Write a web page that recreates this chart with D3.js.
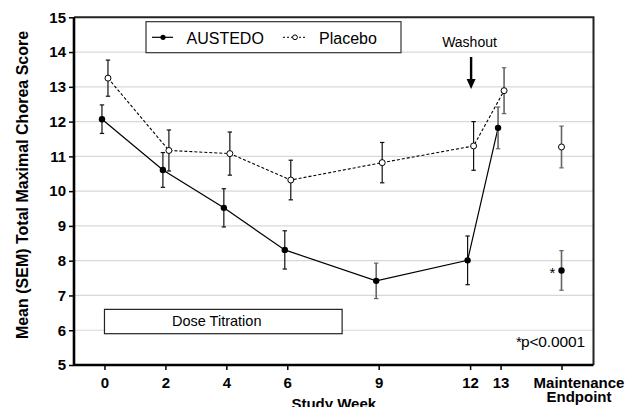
<!DOCTYPE html>
<html>
<head>
<meta charset="utf-8">
<script src="https://cdn.jsdelivr.net/npm/d3@7"></script>
<style>
  body { margin: 0; background: #fff; }
  svg { font-family: "Liberation Sans", Arial, sans-serif; }
</style>
</head>
<body>
<div id="chart"></div>
<script>
// week positions and values
const weeks = [0, 2, 4, 6, 9, 12, 13];
const austedo = [12.07, 10.61, 9.52, 8.31, 7.42, 8.01, 11.82];
const austedoSem = [0.41, 0.50, 0.55, 0.55, 0.51, 0.70, 0.60];
const placebo = [13.25, 11.17, 11.08, 10.32, 10.82, 11.30, 12.89];
const placeboSem = [0.52, 0.59, 0.62, 0.57, 0.58, 0.70, 0.66];

const endpointWeek = 15;
const austedoEnd = 7.72, austedoEndSem = 0.57;
const placeboEnd = 11.27, placeboEndSem = 0.60;

const xTicks = [0, 2, 4, 6, 9, 12, 13, 15];
const xTickLabels = ["0", "2", "4", "6", "9", "12", "13", "Maintenance|Endpoint"];
const yTicks = [5, 6, 7, 8, 9, 10, 11, 12, 13, 14, 15];

const svgWidth = 628;
const svgHeight = 407;

const svg = d3.select("#chart")
    .append("svg")
    .attr("width", svgWidth)
    .attr("height", svgHeight);

const xScale = d3.scaleLinear()
    .domain([-1, 16.05])
    .range([74, 593.5]);

const yScale = d3.scaleLinear()
    .domain([5, 15])
    .range([365, 17.3]);

// gridlines
svg.append("g")
    .selectAll("line")
    .data(yTicks.slice(1, -1))
    .enter().append("line")
    .attr("x1", xScale.range()[0])
    .attr("x2", xScale.range()[1])
    .attr("y1", d => yScale(d))
    .attr("y2", d => yScale(d))
    .attr("stroke", "#d8d8d8")
    .attr("stroke-width", 1.2);

// top and right frame
svg.append("path")
    .attr("d", "M" + xScale.range()[0] + "," + yScale(15) + "H" + xScale.range()[1] + "V" + yScale(5))
    .attr("fill", "none")
    .attr("stroke", "#222")
    .attr("stroke-width", 2);

// axes
const xAxis = d3.axisBottom(xScale)
    .tickValues(xTicks)
    .tickSize(5)
    .tickPadding(7)
    .tickFormat((d, i) => xTickLabels[i]);

const gx = svg.append("g")
    .attr("transform", "translate(0," + yScale(5) + ")")
    .call(xAxis);

const yAxis = d3.axisLeft(yScale)
    .tickValues(yTicks)
    .tickSize(5)
    .tickPadding(3);

const gy = svg.append("g")
    .attr("transform", "translate(" + xScale.range()[0] + ",0)")
    .call(yAxis);

[gx, gy].forEach(g => {
    g.select(".domain").attr("stroke", "#000").attr("stroke-width", 2.6);
    g.selectAll(".tick line").attr("stroke", "#000").attr("stroke-width", 1.5);
    g.selectAll(".tick text")
        .attr("fill", "#000")
        .style("font-size", "15px")
        .style("font-weight", "bold")
        .style("font-family", "'Liberation Sans', Arial, sans-serif");
});
gx.select(".domain").attr("d", "M" + xScale.range()[0] + ",0H" + xScale.range()[1]);
gy.select(".domain").attr("d", "M0," + yScale(5) + "V" + yScale(15));

// two-line label for the endpoint tick, set a bit right of its tick
gx.selectAll(".tick text").each(function (d, i) {
    const parts = xTickLabels[i].split("|");
    if (parts.length > 1) {
        const t = d3.select(this).text(null);
        parts.forEach((p, k) => {
            t.append("tspan").attr("x", 17).attr("dy", k === 0 ? "0.71em" : "14px").text(p);
        });
        t.attr("dy", null);
    }
});

// axis titles
svg.append("text")
    .attr("text-anchor", "middle")
    .attr("x", (xScale.range()[0] + xScale.range()[1]) / 2)
    .attr("y", 409)
    .style("font-size", "15px")
    .style("font-weight", "bold")
    .text("Study Week");

svg.append("text")
    .attr("text-anchor", "middle")
    .attr("transform", "translate(28,185) rotate(-90)")
    .style("font-size", "16px")
    .style("font-weight", "bold")
    .text("Mean (SEM) Total Maximal Chorea Score");

// dose titration box
svg.append("rect")
    .attr("x", xScale(0))
    .attr("y", yScale(6.6))
    .attr("width", xScale(7.8) - xScale(0))
    .attr("height", yScale(5.9) - yScale(6.6))
    .attr("fill", "#fff")
    .attr("stroke", "#222")
    .attr("stroke-width", 1.2);

svg.append("text")
    .attr("x", 172)
    .attr("y", 325.7)
    .style("font-size", "14.5px")
    .text("Dose Titration");

// series
const austedoPts = weeks.map((w, i) => ({ week: w, value: austedo[i], sem: austedoSem[i], dx: -2.5 }));
const placeboPts = weeks.map((w, i) => ({ week: w, value: placebo[i], sem: placeboSem[i], dx: 3.5 }));
austedoPts.forEach((d, i) => d.gray = (i >= 4 && i !== 5) );
placeboPts.forEach((d, i) => d.gray = (i === 6));

const line = d3.line()
    .x(d => xScale(d.week) + d.dx)
    .y(d => yScale(d.value));

svg.append("path")
    .datum(placeboPts)
    .attr("d", line)
    .attr("fill", "none")
    .attr("stroke", "#000")
    .attr("stroke-width", 1.1)
    .attr("stroke-dasharray", "3,2");

svg.append("path")
    .datum(austedoPts)
    .attr("d", line)
    .attr("fill", "none")
    .attr("stroke", "#000")
    .attr("stroke-width", 1.2);

const endPts = [
    { week: endpointWeek, value: placeboEnd, sem: placeboEndSem, dx: 0, gray: true, open: true },
    { week: endpointWeek, value: austedoEnd, sem: austedoEndSem, dx: 0, gray: true, open: false }
];

function drawErrorBars(points) {
    const g = svg.append("g");
    points.forEach(d => {
        const cx = xScale(d.week) + d.dx;
        const col = d.gray ? "#666" : "#111";
        const sw = d.gray ? 1.6 : 1.2;
        g.append("line")
            .attr("x1", cx).attr("x2", cx)
            .attr("y1", yScale(d.value + d.sem)).attr("y2", yScale(d.value - d.sem))
            .attr("stroke", col).attr("stroke-width", sw);
        [d.value + d.sem, d.value - d.sem].forEach(v => {
            g.append("line")
                .attr("x1", cx - 2.2).attr("x2", cx + 2.2)
                .attr("y1", yScale(v)).attr("y2", yScale(v))
                .attr("stroke", col).attr("stroke-width", 1.2);
        });
    });
}

drawErrorBars(placeboPts);
drawErrorBars(austedoPts);
drawErrorBars(endPts);

svg.append("g")
    .selectAll("circle")
    .data(placeboPts.concat(endPts.filter(d => d.open)))
    .enter().append("circle")
    .attr("cx", d => xScale(d.week) + d.dx)
    .attr("cy", d => yScale(d.value))
    .attr("r", 3)
    .attr("fill", "#fff")
    .attr("stroke", "#000")
    .attr("stroke-width", 1);

svg.append("g")
    .selectAll("circle")
    .data(austedoPts.concat(endPts.filter(d => !d.open)))
    .enter().append("circle")
    .attr("cx", d => xScale(d.week) + d.dx)
    .attr("cy", d => yScale(d.value))
    .attr("r", 3.2)
    .attr("fill", "#000");

// significance marks
svg.append("text")
    .attr("text-anchor", "middle")
    .attr("x", xScale(endpointWeek) - 9)
    .attr("y", yScale(austedoEnd) + 8)
    .style("font-size", "15px")
    .text("*");

svg.append("text")
    .attr("x", 516)
    .attr("y", 346.7)
    .style("font-size", "15px")
    .text("*");

svg.append("text")
    .attr("x", 521)
    .attr("y", 346.7)
    .attr("textLength", 64)
    .attr("lengthAdjust", "spacing")
    .style("font-size", "15.5px")
    .text("p<0.0001");

// washout arrow
svg.append("text")
    .attr("text-anchor", "middle")
    .attr("x", 469.5)
    .attr("y", 47)
    .style("font-size", "14px")
    .text("Washout");

svg.append("line")
    .attr("x1", xScale(12) + 1).attr("x2", xScale(12) + 1)
    .attr("y1", 57).attr("y2", 80)
    .attr("stroke", "#000").attr("stroke-width", 2.4);

svg.append("path")
    .attr("d", "M" + (xScale(12) + 1 - 4.5) + ",79L" + (xScale(12) + 1 + 4.5) + ",79L" + (xScale(12) + 1) + ",89Z")
    .attr("fill", "#000");

// legend
const legend = svg.append("g");
legend.append("rect")
    .attr("x", 146).attr("y", 21.7)
    .attr("width", 255).attr("height", 31)
    .attr("fill", "#fff")
    .attr("stroke", "#333")
    .attr("stroke-width", 1.2);

legend.append("line")
    .attr("x1", 152).attr("x2", 173).attr("y1", 37.3).attr("y2", 37.3)
    .attr("stroke", "#000").attr("stroke-width", 1.2);
legend.append("circle")
    .attr("cx", 163).attr("cy", 37.3).attr("r", 2.6).attr("fill", "#000");
legend.append("text")
    .attr("x", 186.5).attr("y", 44.3)
    .style("font-size", "16px")
    .text("AUSTEDO");

legend.append("line")
    .attr("x1", 283).attr("x2", 307).attr("y1", 37.3).attr("y2", 37.3)
    .attr("stroke", "#000").attr("stroke-width", 1)
    .attr("stroke-dasharray", "2,2");
legend.append("circle")
    .attr("cx", 295).attr("cy", 37.3).attr("r", 2.4)
    .attr("fill", "#fff").attr("stroke", "#000").attr("stroke-width", 1);
legend.append("text")
    .attr("x", 319).attr("y", 44.3)
    .style("font-size", "16px")
    .text("Placebo");
</script>
</body>
</html>
